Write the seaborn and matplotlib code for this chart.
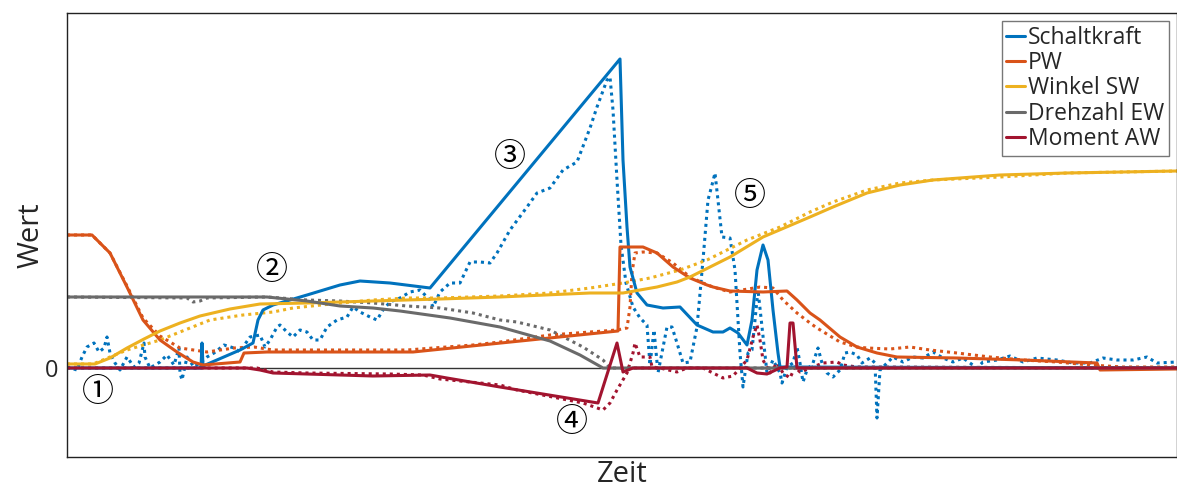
"""Schaltvorgang: Simulation (durchgezogen) und Messung (gepunktet)."""
import matplotlib
matplotlib.use("Agg")
import matplotlib.pyplot as plt
import seaborn as sns

# Zeit in ms, Wert in beliebigen Einheiten
# --- Simulation (durchgezogen) ---
kraft_t = [0, 133, 134, 135, 136, 173, 186, 191, 196, 206, 240, 273, 293, 323, 363, 553,
           556, 560, 563, 570, 580, 596, 613, 630, 646, 656, 663, 671, 680, 685, 690, 696,
           701, 706, 711, 713, 1110]
kraft_v = [0, 0, 0, 25, 2, 18, 25, 48, 58, 63, 73, 83, 87, 85, 80, 309,
           208, 141, 101, 75, 63, 60, 61, 43, 36, 36, 40, 35, 23, 48, 98, 123,
           108, 58, 15, 1, 0]

pw_t = [0, 25, 43, 60, 76, 93, 110, 126, 136, 173, 177, 200, 346, 551, 553, 566, 576, 590,
        606, 623, 640, 646, 663, 696, 720, 730, 743, 753, 773, 790, 810, 830, 890, 956,
        1030, 1033, 1110]
pw_v = [133, 133, 115, 81, 48, 28, 16, 6, 3, 6, 15, 16, 16, 37, 121, 121, 121, 115,
        101, 90, 83, 81, 77, 76, 77, 68, 55, 48, 31, 21, 15, 11, 10, 8,
        5, -2, -1]

winkel_t = [0, 28, 43, 60, 77, 93, 113, 133, 163, 193, 240, 306, 373, 433, 523, 556, 573,
            590, 610, 623, 643, 663, 696, 743, 766, 800, 833, 866, 933, 1000, 1110]
winkel_v = [4, 4, 10, 20, 29, 37, 45, 52, 59, 64, 65, 67, 69, 71, 75, 75, 78,
            81, 86, 91, 101, 111, 131, 151, 161, 175, 183, 188, 193, 195, 197]

drehzahl_t = [0, 200, 240, 273, 306, 333, 383, 433, 483, 513, 536, 1110]
drehzahl_v = [71, 71, 67, 62, 60, 57, 50, 41, 27, 13, 0, 0]

moment_t = [0, 180, 193, 206, 240, 306, 363, 380, 433, 531, 550, 556, 566, 680, 690, 700,
            713, 720, 723, 726, 730, 1110]
moment_v = [0, 0, -2, -5, -6, -8, -7, -10, -19, -35, 25, -4, 0, 0, -5, -6,
            0, 1, 45, 45, 0, 0]

# --- Messung (gepunktet) ---
kraft_m_t = [0, 10, 15, 20, 27, 32, 37, 40, 43, 48, 53, 60, 67, 72, 77, 78, 83, 93, 100, 107,
             112, 113, 115, 120, 127, 133, 140, 147, 157, 167, 173, 176, 183, 193, 198, 203,
             210, 213, 220, 226, 233, 240, 246, 253, 260, 270, 280, 286, 293, 303, 310, 316,
             323, 333, 343, 353, 363, 366, 373, 383, 393, 403, 413, 423, 430, 443, 460, 470,
             483, 496, 510, 523, 530, 540, 543, 546, 550, 554, 559, 566, 573, 580, 583, 587,
             591, 600, 605, 610, 616, 623, 630, 636, 641, 645, 648, 651, 655, 663, 668, 673,
             676, 681, 685, 691, 695, 700, 706, 713, 715, 720, 726, 730, 733, 736, 740, 746,
             751, 755, 760, 766, 773, 778, 783, 790, 795, 803, 808, 810, 813, 820, 826, 836,
             846, 856, 866, 876, 886, 896, 910, 916, 930, 943, 956, 970, 990, 1006, 1023, 1036,
             1050, 1066, 1080, 1090, 1110]
kraft_m_v = [1, -2, 11, 21, 25, 16, 20, 31, 15, 5, -2, 11, 1, 5, 25, 11, 0, 6, 13, 3,
             20, -5, -12, 11, 1, 5, 11, 15, 23, 20, 16, 21, 31, 33, 21, 28,
             41, 43, 36, 31, 38, 36, 28, 28, 41, 48, 51, 61, 56, 51, 48, 58,
             66, 70, 76, 78, 68, 61, 76, 85, 85, 106, 106, 105, 115, 138, 161, 175,
             180, 198, 206, 240, 261, 288, 291, 258, 188, 123, 85, 61, 50, 43, 3, 38,
             -5, 41, 41, 25, 5, 6, 41, 108, 168, 183, 195, 168, 131, 130, 98, 15,
             -19, 15, 18, 78, 41, -5, 8, -5, -15, 1, 5, 21, 5, -14, -2, 5,
             20, 5, -5, -9, -2, 15, 16, 13, 5, 10, 5, -50, -2, 5, 11, 6,
             11, 10, 16, 10, 6, 10, 0, 6, 8, 12, 6, 10, 8, 5, 5, 10,
             8, 8, 11, 5, 6]

pw_m_t = [0, 25, 43, 60, 76, 93, 113, 140, 167, 187, 206, 273, 340, 406, 433, 483, 550, 560,
          563, 565, 568, 576, 590, 606, 623, 636, 646, 663, 693, 706, 716, 730, 743, 750,
          773, 790, 800, 823, 843, 863, 890, 923, 956, 990, 1023, 1056, 1110]
pw_m_v = [133, 133, 115, 82, 50, 32, 20, 16, 20, 21, 18, 18, 18, 23, 26, 33, 38, 40,
          61, 95, 115, 116, 115, 105, 91, 85, 81, 76, 81, 80, 68, 55, 45, 40,
          26, 21, 20, 19, 21, 18, 15, 11, 8, 6, 3, 1, 1]

winkel_m_t = [0, 26, 60, 93, 143, 176, 206, 226, 273, 306, 340, 373, 433, 483, 523, 556, 583,
              613, 640, 680, 713, 743, 766, 800, 833, 866, 933, 1000, 1110]
winkel_m_v = [4, 4, 18, 28, 48, 53, 56, 60, 65, 68, 70, 70, 72, 75, 80, 85, 90,
              98, 108, 128, 141, 156, 166, 178, 185, 188, 191, 195, 197]

drehzahl_m_t = [0, 120, 126, 133, 140, 200, 240, 273, 306, 340, 373, 406, 433, 450, 483, 516,
                536, 543, 1110]
drehzahl_m_v = [71, 70, 66, 67, 70, 71, 68, 67, 65, 62, 60, 55, 48, 46, 38, 21,
                8, 0, 0]

moment_m_t = [0, 190, 206, 240, 323, 356, 373, 433, 450, 516, 536, 543, 550, 560, 566, 568,
              573, 583, 585, 593, 610, 620, 636, 646, 656, 666, 680, 686, 690, 693, 696, 703,
              710, 716, 723, 728, 733, 756, 770, 776, 790, 1110]
moment_m_v = [0, 0, -4, -5, -6, -7, -11, -17, -22, -35, -42, -35, -22, -5, 15, 25,
              11, 11, 1, 0, -4, 0, 0, -5, -10, -8, 8, 31, 43, 28, 8, -5,
              5, -5, -10, 1, -4, 5, 6, 3, 1, 0]

labels = ["Schaltkraft", "PW", "Winkel SW", "Drehzahl EW", "Moment AW"]
colors = ["#0072BD", "#D95319", "#EDB120", "#6A6A6A", "#A2142F"]
sim = [(kraft_t, kraft_v), (pw_t, pw_v), (winkel_t, winkel_v),
       (drehzahl_t, drehzahl_v), (moment_t, moment_v)]
mess = [(kraft_m_t, kraft_m_v), (pw_m_t, pw_m_v), (winkel_m_t, winkel_m_v),
        (drehzahl_m_t, drehzahl_m_v), (moment_m_t, moment_m_v)]

# Markierungen (Zeit, Wert)
marks = ["\u2460", "\u2461", "\u2462", "\u2463", "\u2464"]
mark_t = [31, 205, 443, 505, 683]
mark_v = [-24, 98, 211, -54, 172]

sns.set_theme(style="white")
plt.rcParams["font.family"] = ["Open Sans", "DejaVu Sans"]

fig = plt.figure(figsize=(11.77, 4.87), dpi=100)
ax = fig.add_axes([67 / 1177, 30 / 487, 1110 / 1177, 444 / 487])

ax.axhline(0, color="#333333", lw=1.0, zorder=1)

for (t, v), c in zip(mess, colors):
    sns.lineplot(x=t, y=v, ax=ax, color=c, lw=2.2, linestyle=(0, (1, 1.3)),
                 sort=False, estimator=None, legend=False)

handles = []
for (t, v), c, lab in zip(sim, colors, labels):
    sns.lineplot(x=t, y=v, ax=ax, color=c, lw=2.2, sort=False, estimator=None,
                 legend=False)
    handles.append(ax.lines[-1])

for m, t, v in zip(marks, mark_t, mark_v):
    ax.text(t, v, m, fontsize=23, ha="center", va="center",
            family=["Noto Sans CJK JP", "DejaVu Sans"], color="black")

ax.set_xlim(0, 1110)
ax.set_ylim(-89, 355)
ax.set_xticks([])
ax.set_yticks([0])
ax.set_yticklabels(["0"], fontsize=17)
ax.tick_params(axis="y", length=0, pad=6)
ax.set_xlabel("Zeit", fontsize=21, labelpad=2)
ax.set_ylabel("Wert", fontsize=21, labelpad=0)
for s in ax.spines.values():
    s.set_color("#222222")
    s.set_linewidth(1.0)

leg = ax.legend(handles, labels, loc="upper right", fontsize=16.5, frameon=True,
                fancybox=False, edgecolor="#555555", handlelength=0.8,
                handletextpad=0.15, labelspacing=0.06, borderpad=0.2,
                borderaxespad=0.35)
leg.get_frame().set_linewidth(1.0)

fig.savefig("out.png", dpi=100)
